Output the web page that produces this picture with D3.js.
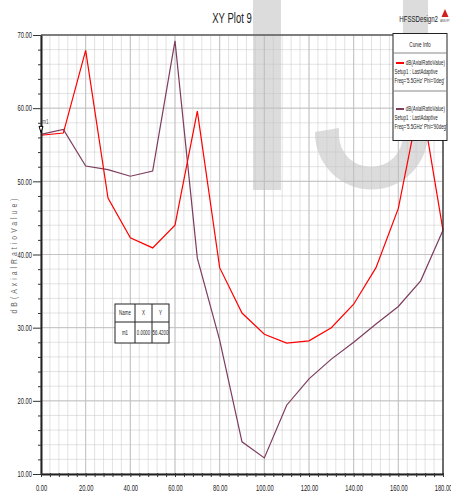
<!DOCTYPE html>
<html>
<head>
<meta charset="utf-8">
<script src="https://cdn.jsdelivr.net/npm/d3@7"></script>
<style>
  body { margin: 0; background: #fff; }
  text { font-family: "Liberation Sans", Arial, sans-serif; }
</style>
</head>
<body>
<script>
'use strict';

// data
const theta = [0, 10, 20, 30, 40, 50, 60, 70, 80, 90, 100, 110, 120, 130, 140, 150, 160, 170, 180];
const phi0 = [56.3, 56.6, 67.9, 47.7, 42.3, 40.9, 44.0, 59.6, 38.2, 32.0, 29.1, 27.9, 28.2, 30.0, 33.2, 38.2, 46.3, 61.6, 43.3];
const phi90 = [56.42, 57.1, 52.1, 51.6, 50.7, 51.4, 69.2, 39.5, 28.3, 14.4, 12.2, 19.4, 23.0, 25.7, 28.0, 30.5, 32.9, 36.4, 43.3];
const xTicks = [0, 20, 40, 60, 80, 100, 120, 140, 160, 180];
const yTicks = [10, 20, 30, 40, 50, 60, 70];
const seriesNames = ["dB(AxialRatioValue)", "dB(AxialRatioValue)"];
const seriesSetup = ["Setup1 : LastAdaptive", "Setup1 : LastAdaptive"];
const seriesFreq = ["Freq='5.5GHz' Phi='0deg'", "Freq='5.5GHz' Phi='90deg'"];
const seriesColors = ["#ff0000", "#7d3c5e"];

const W = 451, H = 496;
const SX = 0.68; // the reference uses a very condensed font
const svg = d3.select('body').append('svg').attr('width', W).attr('height', H);

const x = d3.scaleLinear().domain([0, 180]).range([41, 443]);
const y = d3.scaleLinear().domain([10, 70]).range([474, 35]);

// condensed text helper
function ntext(parent, px, py, str, size, anchor, color) {
  return parent.append('text')
    .attr('transform', 'translate(' + px + ',' + py + ')scale(' + SX + ',1)')
    .attr('text-anchor', anchor || 'start')
    .style('font-size', size + 'px')
    .attr('fill', color || '#222')
    .text(str);
}

// watermark
svg.append('rect').attr('x', 253).attr('y', 0).attr('width', 28).attr('height', 190).attr('fill', '#dcdcdc');
svg.append('path')
  .attr('d', 'M315,132 L339,128 L339,135 A32,32 0 0 0 403,135 L403,0 L428,0 L428,133 A56.5,56.5 0 0 1 315,133 Z')
  .attr('fill', '#dcdcdc');

// grid
const grid = svg.append('g');
grid.selectAll('.vx').data(d3.range(0, 181, 4)).enter().append('line')
  .attr('x1', d => x(d)).attr('x2', d => x(d)).attr('y1', y(70)).attr('y2', y(10))
  .attr('stroke', '#c8c8c8').attr('stroke-opacity', 0.5);
grid.selectAll('.vy').data(d3.range(10, 71, 2)).enter().append('line')
  .attr('y1', d => y(d)).attr('y2', d => y(d)).attr('x1', x(0)).attr('x2', x(180))
  .attr('stroke', '#c8c8c8').attr('stroke-opacity', 0.5);
grid.selectAll('.mx').data(xTicks).enter().append('line')
  .attr('x1', d => x(d)).attr('x2', d => x(d)).attr('y1', y(70)).attr('y2', y(10))
  .attr('stroke', '#bdbdbd').attr('stroke-opacity', 0.85);
grid.selectAll('.my').data(yTicks).enter().append('line')
  .attr('y1', d => y(d)).attr('y2', d => y(d)).attr('x1', x(0)).attr('x2', x(180))
  .attr('stroke', '#bdbdbd').attr('stroke-opacity', 0.85);

// curves
const line = d3.line().x((d, i) => x(theta[i])).y(d => y(d));
[phi90, phi0].forEach((s, k) => {
  svg.append('path').datum(s).attr('d', line)
    .attr('fill', 'none').attr('stroke', seriesColors[1 - k]).attr('stroke-width', 1.2);
});

// frame
svg.append('line').attr('x1', x(0)).attr('x2', x(180)).attr('y1', y(70)).attr('y2', y(70)).attr('stroke', '#222').attr('stroke-width', 1.2);
svg.append('line').attr('x1', x(180)).attr('x2', x(180)).attr('y1', y(70)).attr('y2', y(10)).attr('stroke', '#222').attr('stroke-width', 1.2);

// axes
const yAxis = d3.axisLeft(y).tickValues(d3.range(10, 71, 2)).tickFormat(d => yTicks.includes(d) ? d.toFixed(2) : '')
  .tickSizeInner(3).tickSizeOuter(0);
const gy = svg.append('g').attr('transform', 'translate(' + x(0) + ',0)').call(yAxis);
gy.selectAll('.tick line').attr('x2', d => yTicks.includes(d) ? -8 : -3).attr('stroke', '#333');
gy.selectAll('.tick text').attr('x', 0).attr('transform', 'translate(-9,0)scale(' + SX + ',1)')
  .style('font-size', '8.5px').style('font-family', '"Liberation Sans", Arial, sans-serif').attr('fill', '#222');
gy.select('.domain').attr('stroke', '#222').attr('stroke-width', 2);

const xAxis = d3.axisBottom(x).tickValues(d3.range(0, 181, 4)).tickFormat(d => xTicks.includes(d) ? d.toFixed(2) : '')
  .tickSizeInner(3).tickSizeOuter(0).tickPadding(8);
const gx = svg.append('g').attr('transform', 'translate(0,' + y(10) + ')').call(xAxis);
gx.selectAll('.tick line').attr('y1', -1).attr('y2', 3).attr('stroke', '#333');
gx.selectAll('.tick text').attr('transform', 'scale(' + SX + ',1)')
  .style('font-size', '8.5px').style('font-family', '"Liberation Sans", Arial, sans-serif').attr('fill', '#222');
gx.select('.domain').attr('stroke', '#222').attr('stroke-width', 2);

// titles
ntext(svg, 232, 23, 'XY Plot 9', 14, 'middle');
ntext(svg, 438, 22, 'HFSSDesign2', 9, 'end');
svg.append('path').attr('d', 'M445,9 L448.5,17 L441.5,17 Z').attr('fill', '#d02020');
ntext(svg, 445, 22, 'ANSOFT', 3.5, 'middle', '#444');

svg.append('text').attr('transform', 'translate(17,' + ((y(10) + y(70)) / 2) + ')rotate(-90)scale(0.8,1)')
  .attr('text-anchor', 'middle').style('font-size', '8.5px').style('letter-spacing', '3.8px')
  .attr('fill', '#666').text('dB(AxialRatioValue)');

// legend
const lg = svg.append('g');
lg.append('rect').attr('x', 393).attr('y', 33.5).attr('width', 54).attr('height', 107)
  .attr('fill', '#fff').attr('stroke', '#222').attr('stroke-width', 1);
ntext(lg, 420, 47, 'Curve Info', 6.8, 'middle');
[53, 91].forEach(v => lg.append('line').attr('x1', 393).attr('x2', 447).attr('y1', v).attr('y2', v).attr('stroke', '#888'));
seriesNames.forEach((n, i) => {
  const top = i === 0 ? 63 : 109;
  lg.append('line').attr('x1', 396).attr('x2', 404).attr('y1', top).attr('y2', top)
    .attr('stroke', seriesColors[i]).attr('stroke-width', 2);
  ntext(lg, 445, top + 2, n, 6.5, 'end');
  ntext(lg, 394.5, top + 11, seriesSetup[i], 6.5);
  ntext(lg, 394.5, top + 20, seriesFreq[i], 6.5);
});

// marker m1
const mx = x(theta[0]), my = y(phi90[0]);
svg.append('path').attr('d', `M${mx - 2},${my - 8} L${mx + 2},${my - 8} L${mx},${my - 2} Z`)
  .attr('fill', '#fff').attr('stroke', '#000').attr('stroke-width', 1);
ntext(svg, mx + 1, my - 10, 'm1', 7, 'start', '#555');

// marker table
const tb = svg.append('g');
tb.append('rect').attr('x', 115).attr('y', 304).attr('width', 54).attr('height', 39)
  .attr('fill', '#fff').attr('stroke', '#222');
tb.append('line').attr('x1', 115).attr('x2', 169).attr('y1', 322).attr('y2', 322).attr('stroke', '#222');
[135, 152].forEach(v => tb.append('line').attr('x1', v).attr('x2', v).attr('y1', 304).attr('y2', 343).attr('stroke', '#222'));
const cols = [125, 143.5, 160.5];
['Name', 'X', 'Y'].forEach((t, i) => ntext(tb, cols[i], 315, t, 6.5, 'middle'));
['m1', theta[0].toFixed(4), phi90[0].toFixed(4)].forEach((t, i) => ntext(tb, cols[i], 335, t, 6.5, 'middle'));
</script>
</body>
</html>
